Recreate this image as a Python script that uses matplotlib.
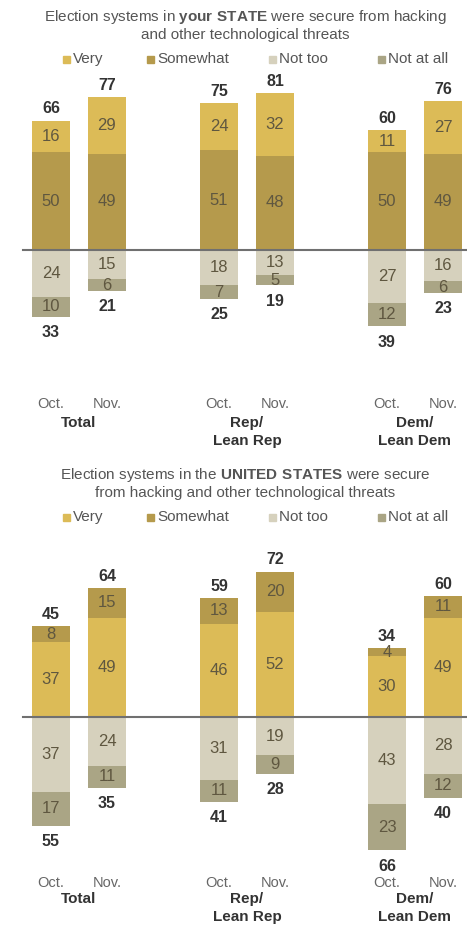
import numpy as np
import matplotlib.pyplot as plt
from matplotlib.patches import Rectangle
import matplotlib.transforms as mtransforms

plt.rcParams['font.family'] = ['Liberation Sans', 'DejaVu Sans']
plt.rcParams['mathtext.fontset'] = 'custom'
plt.rcParams['mathtext.bf'] = 'Liberation Sans:bold'
plt.rcParams['mathtext.rm'] = 'Liberation Sans'

months = ['Oct.', 'Nov.', 'Oct.', 'Nov.', 'Oct.', 'Nov.']
groups = ['Total', 'Rep/\nLean Rep', 'Dem/\nLean Dem']
legend_names = ['Very', 'Somewhat', 'Not too', 'Not at all']

# your STATE
st_somewhat = [50, 49, 51, 48, 50, 49]
st_very = [16, 29, 24, 32, 11, 27]
st_pos_tot = [66, 77, 75, 81, 60, 76]
st_nottoo = [24, 15, 18, 13, 27, 16]
st_notall = [10, 6, 7, 5, 12, 6]
st_neg_tot = [33, 21, 25, 19, 39, 23]

# UNITED STATES
us_low = [37, 49, 46, 52, 30, 49]
us_high = [8, 15, 13, 20, 4, 11]
us_pos_tot = [45, 64, 59, 72, 34, 60]
us_nottoo = [37, 24, 31, 19, 43, 28]
us_notall = [17, 11, 11, 9, 23, 12]
us_neg_tot = [55, 35, 41, 28, 66, 40]

c_very = '#dcbb57'
c_some = '#b59a4c'
c_nottoo = '#d6d1bd'
c_notall = '#aaa585'
c_inner = '#5f5740'
c_tot = '#333333'

x = np.array([0, 1, 3, 4, 6, 7])
w = 0.68
W, H = 467, 927
fig = plt.figure(figsize=(W / 100, H / 100), dpi=100)


def fy(py):
    return 1 - py / H


def panel(ax, low, lowc, high, highc, ptot, nt, na, ntot, ylim):
    ax.bar(x, low, w, color=lowc)
    ax.bar(x, high, w, bottom=low, color=highc)
    ax.bar(x, [-v for v in nt], w, color=c_nottoo)
    ax.bar(x, [-v for v in na], w, bottom=[-v for v in nt], color=c_notall)
    for i in range(6):
        ax.text(x[i], low[i] / 2, str(low[i]), ha='center', va='center', fontsize=12, color=c_inner)
        ax.text(x[i], low[i] + high[i] / 2, str(high[i]), ha='center', va='center', fontsize=12, color=c_inner)
        ax.text(x[i], -nt[i] / 2, str(nt[i]), ha='center', va='center', fontsize=12, color=c_inner)
        ax.text(x[i], -nt[i] - na[i] / 2, str(na[i]), ha='center', va='center', fontsize=12, color=c_inner)
        ax.annotate(str(ptot[i]), (x[i], low[i] + high[i]), xytext=(0, 3), textcoords='offset points',
                    ha='center', va='bottom', fontsize=11.5, fontweight='bold', color=c_tot)
        ax.annotate(str(ntot[i]), (x[i], -nt[i] - na[i]), xytext=(0, -6), textcoords='offset points',
                    ha='center', va='top', fontsize=11.5, fontweight='bold', color=c_tot)
    ax.axhline(0, xmin=0.05, xmax=1, color='#707070', lw=1.5)
    ax.set_xlim(-51 / 56, (W - 51) / 56)
    ax.set_ylim(*ylim)
    ax.axis('off')


def header(title, ytitle, ylegend):
    fig.text(245 / W, fy(ytitle), title, ha='center', va='center', fontsize=11, color='#555555',
             linespacing=1.1)
    for name, col, px in zip(legend_names, [c_very, c_some, c_nottoo, c_notall], [63, 147, 269, 378]):
        fig.patches.append(Rectangle((px / W, fy(ylegend + 3.5)), 7 / W, 7 / H,
                                     transform=fig.transFigure, color=col))
        fig.text((px + 10) / W, fy(ylegend), name, ha='left', va='center', fontsize=11, color='#555555')


def xlabels(ax, yoct, ygrp):
    tr = mtransforms.blended_transform_factory(ax.transData, fig.transFigure)
    for i in range(6):
        ax.text(x[i], fy(yoct), months[i], transform=tr, ha='center', va='center', fontsize=10.5,
                color='#666666')
    for j, g in enumerate(groups):
        ax.text(x[2 * j] + 0.5, fy(ygrp), g, transform=tr, ha='center', va='top', fontsize=11,
                fontweight='bold', color=c_tot, linespacing=1.35)


ax1 = fig.add_axes([0, 0.6246, 1, 0.2854])
panel(ax1, st_somewhat, c_some, st_very, c_very, st_pos_tot, st_nottoo, st_notall, st_neg_tot, (-50, 85))
header('Election systems in $\\mathbf{your\\ STATE}$ were secure from hacking\nand other technological threats',
       25, 59)
xlabels(ax1, 404, 416)

ax2 = fig.add_axes([0, 0.0631, 1, 0.3377])
panel(ax2, us_low, c_very, us_high, c_some, us_pos_tot, us_nottoo, us_notall, us_neg_tot, (-75, 80))
header('Election systems in the $\\mathbf{UNITED\\ STATES}$ were secure\nfrom hacking and other technological threats',
       483, 517)
xlabels(ax2, 883, 892)

fig.savefig('out.png', dpi=100)
